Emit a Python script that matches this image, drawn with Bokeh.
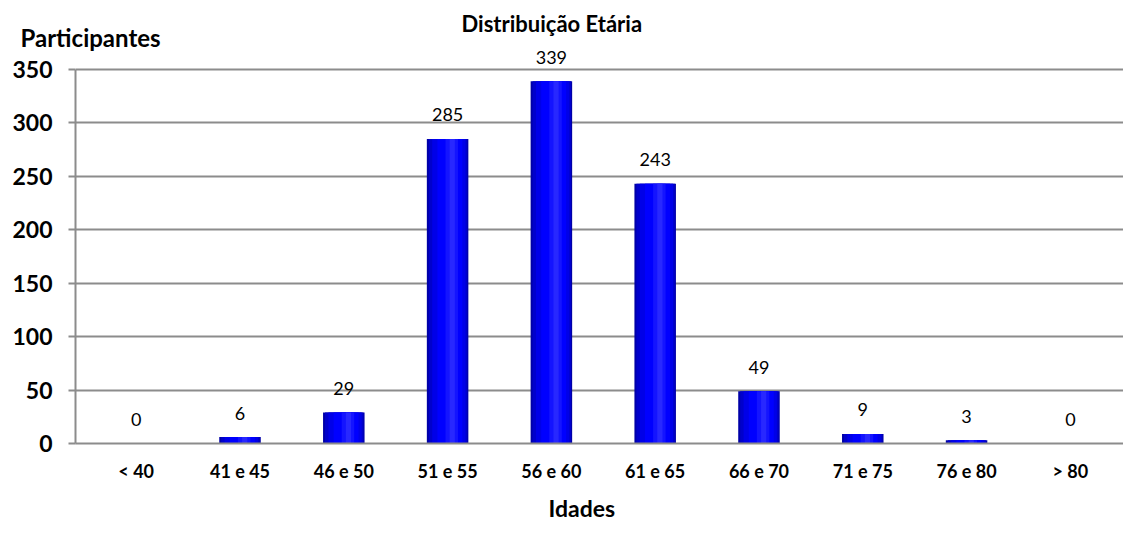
from bokeh.plotting import figure
from bokeh.models import ColumnDataSource, LabelSet, FixedTicker, Range1d, Title
from bokeh.core.properties import value
from bokeh.embed import file_html
from bokeh.resources import INLINE

categories = ["< 40", "41 e 45", "46 e 50", "51 e 55", "56 e 60",
              "61 e 65", "66 e 70", "71 e 75", "76 e 80", "> 80"]
values = [0, 6, 29, 285, 339, 243, 49, 9, 3, 0]
y_ticks = [0, 50, 100, 150, 200, 250, 300, 350]

FONT = "Lato"
GRID = "#8c8c8c"

xs = list(range(len(categories)))
src = ColumnDataSource(dict(x=xs, top=values, lab=[str(v) for v in values]))

p = figure(width=1123, height=538, output_backend="svg", toolbar_location=None,
           x_range=Range1d(-0.585, 9.512), y_range=Range1d(0, 370.6),
           min_border_left=75, min_border_right=0, min_border_top=47,
           min_border_bottom=95)
p.outline_line_color = None
p.background_fill_color = "white"
p.border_fill_color = "white"

# bars with cylindrical shading (layers of the same bars)
layers = [(0.40, 0.0, "#0000a8"), (0.37, 0.004, "#0000cc"), (0.32, 0.012, "#0000e8"),
          (0.24, 0.022, "#0000ff"), (0.12, 0.04, "#1414ff"), (0.05, 0.045, "#2828ff")]
for w, off, c in layers:
    p.vbar(x=[x + off for x in xs], top=values, width=w, bottom=0,
           fill_color=c, line_color=None)

# grid and axes
p.xgrid.grid_line_color = None
p.ygrid.grid_line_color = GRID
p.ygrid.grid_line_width = 2
p.ygrid.ticker = FixedTicker(ticks=y_ticks)

p.yaxis.ticker = FixedTicker(ticks=y_ticks)
p.yaxis.bounds = (0, 350)
p.yaxis.axis_line_color = GRID
p.yaxis.axis_line_width = 2
p.yaxis.major_tick_line_color = GRID
p.yaxis.major_tick_line_width = 2
p.yaxis.major_tick_out = 7
p.yaxis.major_tick_in = 0
p.yaxis.minor_tick_line_color = None
p.yaxis.major_label_text_font = FONT
p.yaxis.major_label_text_font_style = "bold"
p.yaxis.major_label_text_font_size = "23px"
p.yaxis.major_label_text_color = "black"
p.yaxis.major_label_standoff = 16

p.xaxis.ticker = FixedTicker(ticks=xs)
p.xaxis.major_label_overrides = {i: c for i, c in zip(xs, categories)}
p.xaxis.axis_line_color = GRID
p.xaxis.axis_line_width = 2
p.xaxis.major_tick_line_color = None
p.xaxis.minor_tick_line_color = None
p.xaxis.major_label_text_font = FONT
p.xaxis.major_label_text_font_style = "bold"
p.xaxis.major_label_text_font_size = "18px"
p.xaxis.major_label_text_color = "black"
p.xaxis.major_label_standoff = 10

labels = LabelSet(x="x", y="top", text="lab", source=src, y_offset=24,
                  text_align="center", text_baseline="middle",
                  text_font=value(FONT), text_font_size=value("18px"),
                  text_color=value("black"))
p.add_layout(labels)

t_part = Title(text="Participantes", align="left", offset=-55, standoff=-8,
               text_font=FONT, text_font_style="bold", text_font_size="24px",
               text_color="black")
p.add_layout(t_part, "above")
t_main = Title(text="Distribuição Etária", align="left", offset=386, standoff=-24,
               text_font=FONT, text_font_style="bold", text_font_size="22px",
               text_color="black")
p.add_layout(t_main, "above")
t_x = Title(text="Idades", align="left", offset=473, standoff=14,
            text_font=FONT, text_font_style="bold", text_font_size="23px",
            text_color="black")
p.add_layout(t_x, "below")

open("out.html", "w").write(file_html(p, INLINE))
